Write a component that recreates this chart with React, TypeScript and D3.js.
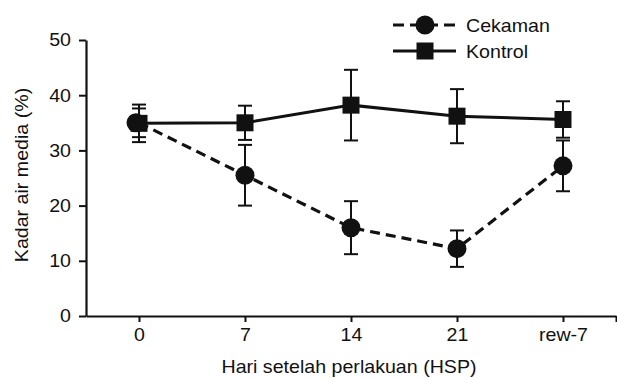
import { useEffect, useRef } from 'react'
import * as d3 from 'd3'

const CATEGORIES = ['0', '7', '14', '21', 'rew-7']
const Y_TICKS = [0, 10, 20, 30, 40, 50]

const CEKAMAN = [35.0, 25.5, 16.0, 12.2, 27.2]
const CEKAMAN_ERR = [2.6, 5.5, 4.8, 3.3, 4.6]
const KONTROL = [34.9, 35.0, 38.2, 36.2, 35.6]
const KONTROL_ERR = [3.4, 3.1, 6.4, 4.9, 3.3]

const WIDTH = 617
const HEIGHT = 379
const FONT = '"Liberation Sans", Arial, Helvetica, sans-serif'
const FONT_SIZE = 18.5
const STRETCH = 1.06

export default function App() {
  const svgRef = useRef<SVGSVGElement>(null)

  useEffect(() => {
    if (!svgRef.current) return
    const svg = d3.select(svgRef.current)
    svg.selectAll('*').remove()

    const x = d3.scaleLinear().domain([-0.5, 4.5]).range([86, 616])
    const y = d3.scaleLinear().domain([0, 50]).range([316, 40])

    // axes
    const xAxis = d3.axisBottom(x)
      .tickValues([0, 1, 2, 3, 4, 4.5])
      .tickFormat(d => CATEGORIES[d as number] ?? '')
      .tickSize(6)
      .tickSizeOuter(0)
      .tickPadding(6)
    const xg = svg.append('g').attr('transform', 'translate(0,316)').call(xAxis)

    const yAxis = d3.axisLeft(y)
      .tickValues(Y_TICKS)
      .tickFormat(d3.format('d'))
      .tickSize(7)
      .tickSizeOuter(0)
      .tickPadding(8)
    const yg = svg.append('g').attr('transform', 'translate(86,0)').call(yAxis)

    for (const g of [xg, yg]) {
      g.attr('font-family', null).attr('font-size', null)
      g.select('.domain').attr('stroke', '#111').attr('stroke-width', 2.2)
      g.selectAll('.tick line').attr('stroke', '#111').attr('stroke-width', 2)
      g.selectAll('.tick text')
        .attr('fill', '#111')
        .attr('font-family', FONT)
        .attr('font-size', FONT_SIZE)
    }

    // axis titles
    svg.append('text')
      .attr('x', 349)
      .attr('y', 373)
      .attr('text-anchor', 'middle')
      .attr('font-family', FONT)
      .attr('font-size', FONT_SIZE)
      .attr('fill', '#111')
      .text('Hari setelah perlakuan (HSP)')

    svg.append('text')
      .attr('transform', 'translate(28,175) rotate(-90)')
      .attr('text-anchor', 'middle')
      .attr('font-family', FONT)
      .attr('font-size', FONT_SIZE)
      .attr('fill', '#111')
      .text('Kadar air media (%)')

    const idx = d3.range(CATEGORIES.length)

    // series lines
    svg.append('path')
      .attr('d', d3.line<number>().x(i => x(i)).y(i => y(KONTROL[i]))(idx))
      .attr('fill', 'none')
      .attr('stroke', '#111')
      .attr('stroke-width', 3)
    svg.append('path')
      .attr('d', d3.line<number>().x(i => x(i)).y(i => y(CEKAMAN[i]))(idx))
      .attr('fill', 'none')
      .attr('stroke', '#111')
      .attr('stroke-width', 3.2)
      .attr('stroke-dasharray', '10,6')

    // error bars
    const errorBars = (vals: number[], errs: number[]) => {
      const g = svg.append('g').attr('stroke', '#111').attr('stroke-width', 2)
      idx.forEach(i => {
        const cx = x(i)
        const top = y(vals[i] + errs[i])
        const bot = y(vals[i] - errs[i])
        g.append('line').attr('x1', cx).attr('x2', cx).attr('y1', top).attr('y2', bot)
        g.append('line').attr('x1', cx - 7).attr('x2', cx + 7).attr('y1', top).attr('y2', top)
        g.append('line').attr('x1', cx - 7).attr('x2', cx + 7).attr('y1', bot).attr('y2', bot)
      })
    }
    errorBars(KONTROL, KONTROL_ERR)
    errorBars(CEKAMAN, CEKAMAN_ERR)

    // markers
    idx.forEach(i => {
      svg.append('circle')
        .attr('cx', x(i) - (i === 0 ? 3 : 0))
        .attr('cy', y(CEKAMAN[i]))
        .attr('r', 9.5)
        .attr('fill', '#111')
    })
    idx.forEach(i => {
      svg.append('rect')
        .attr('x', x(i) - 8.5)
        .attr('y', y(KONTROL[i]) - 8.5)
        .attr('width', 17)
        .attr('height', 17)
        .attr('fill', '#111')
    })

    // legend
    const legend = svg.append('g').attr('transform', 'translate(393,0)')
    const rows = [
      { label: 'Cekaman', dash: '11,6', marker: 'circle', cy: 25 },
      { label: 'Kontrol', dash: null, marker: 'square', cy: 51 },
    ]
    rows.forEach(r => {
      legend.append('line')
        .attr('x1', 0).attr('x2', 63)
        .attr('y1', r.cy).attr('y2', r.cy)
        .attr('stroke', '#111')
        .attr('stroke-width', 3)
        .attr('stroke-dasharray', r.dash)
      if (r.marker === 'circle') {
        legend.append('circle').attr('cx', 32).attr('cy', r.cy).attr('r', 9.5).attr('fill', '#111')
      } else {
        legend.append('rect').attr('x', 23.5).attr('y', r.cy - 8.5).attr('width', 17).attr('height', 17).attr('fill', '#111')
      }
      legend.append('text')
        .attr('x', 73)
        .attr('y', r.cy + 7)
        .attr('font-family', FONT)
        .attr('font-size', FONT_SIZE)
        .attr('fill', '#111')
        .text(r.label)
    })

    // widen glyphs slightly to match the source's lettering
    svg.selectAll<SVGTextElement, unknown>('text').each(function () {
      const len = this.getComputedTextLength()
      if (len > 0) {
        d3.select(this)
          .attr('textLength', len * STRETCH)
          .attr('lengthAdjust', 'spacingAndGlyphs')
      }
    })
  }, [])

  return (
    <svg
      ref={svgRef}
      width={WIDTH}
      height={HEIGHT}
      style={{ position: 'absolute', left: 0, top: 0, background: '#fff' }}
    />
  )
}
